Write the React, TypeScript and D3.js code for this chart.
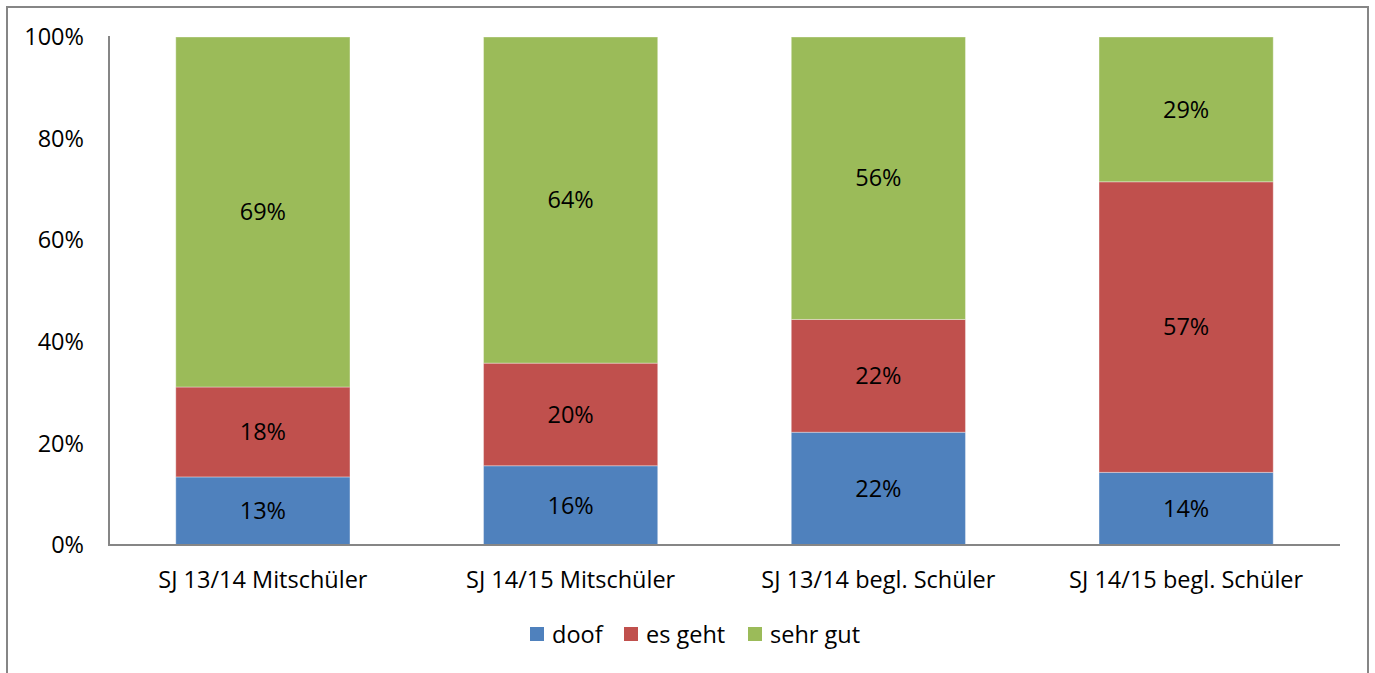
import React from "react";
import * as d3 from "d3";

const categories = ["SJ 13/14 Mitschüler", "SJ 14/15 Mitschüler", "SJ 13/14 begl. Schüler", "SJ 14/15 begl. Schüler"];
const seriesNames = ["doof", "es geht", "sehr gut"];
const doof = [0.134, 0.156, 0.222, 0.143];
const esGeht = [0.177, 0.202, 0.222, 0.572];
const sehrGut = [0.689, 0.642, 0.556, 0.285];
const colors = ["#4f81bd", "#c0504d", "#9bbb59"];
const yTicks = [0, 0.2, 0.4, 0.6, 0.8, 1.0];

const W = 1375, H = 673;
const left = 109, right = 1340, top = 37, bottom = 545;
const FONT = "'Open Sans', sans-serif";
const FS = 23.5;

export default function App() {
  const x = d3.scaleBand().domain(categories).range([left, right]).paddingInner(0.434).paddingOuter(0.217);
  const y = d3.scaleLinear().domain([0, 1]).range([bottom, top]);
  const rows = categories.map((c, i) => ({ cat: c, doof: doof[i], "es geht": esGeht[i], "sehr gut": sehrGut[i] }));
  const stack = d3.stack<any>().keys(seriesNames)(rows);
  const fmt = d3.format(".0%");
  return (
    <svg width={W} height={H} style={{ position: "absolute", left: 0, top: 0 }}>
      <rect x={0} y={0} width={W} height={H} fill="#fff" />
      <path d={`M7,${H + 5} L7,7 L1368,7 L1368,${H + 5}`} fill="none" stroke="#868686" strokeWidth={2} />
      {stack.map((s, si) => (
        <g key={si}>
          {s.map((d, i) => (
            <g key={i}>
              <rect x={x(categories[i])} y={y(d[1])} width={x.bandwidth()} height={y(d[0]) - y(d[1])} fill={colors[si]} stroke="#ffffff" strokeOpacity={0.35} strokeWidth={1} />
              <text x={x(categories[i])! + x.bandwidth() / 2} y={(y(d[0]) + y(d[1])) / 2} dy="0.35em" textAnchor="middle" fontFamily={FONT} fontSize={FS} fill="#000">{fmt(d[1] - d[0])}</text>
            </g>
          ))}
        </g>
      ))}
      <line x1={left} x2={left} y1={top - 1} y2={bottom} stroke="#868686" strokeWidth={2} />
      <line x1={left - 1} x2={right} y1={bottom} y2={bottom} stroke="#868686" strokeWidth={2} />
      {yTicks.map((t) => (
        <text key={t} x={84} y={y(t)} dy="0.35em" textAnchor="end" fontFamily={FONT} fontSize={FS} fill="#000">{fmt(t)}</text>
      ))}
      {categories.map((c) => (
        <text key={c} x={x(c)! + x.bandwidth() / 2} y={580} dy="0.35em" textAnchor="middle" fontFamily={FONT} fontSize={FS} fill="#000">{c}</text>
      ))}
      {seriesNames.map((n, i) => {
        const lx = [530, 624, 748][i];
        return (
          <g key={n}>
            <rect x={lx} y={627} width={14} height={14} fill={colors[i]} />
            <text x={lx + 22} y={635} dy="0.35em" fontFamily={FONT} fontSize={FS} fill="#000">{n}</text>
          </g>
        );
      })}
    </svg>
  );
}
